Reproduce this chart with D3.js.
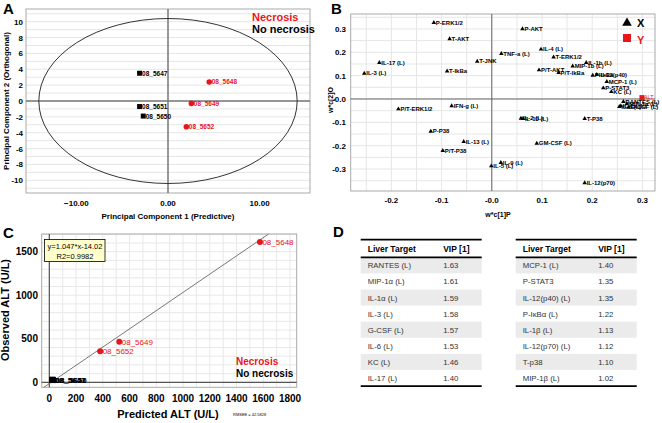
<!DOCTYPE html>
<html><head><meta charset="utf-8">
<script src="https://cdn.jsdelivr.net/npm/d3@7"></script>
<style>body{margin:0;background:#fff}svg{display:block}text{font-family:"Liberation Sans",Arial,sans-serif}</style>
</head><body><svg id="c" width="662" height="423"></svg>
<script>
// ---------- Panel A data (OPLS scores) ----------
const pcaSamples = ["08_5647","08_5651","08_5650","08_5648","08_5649","08_5652"];
const pcaPredictive = [-3.1,-3.1,-2.7,4.5,2.55,2.0];
const pcaOrthogonal = [3.5,-0.7,-1.9,2.4,-0.3,-3.25];
const pcaNecrosis = [false,false,false,true,true,true];
const pcaXTicks = [-10,0,10];
const pcaYTicks = [-10,-8,-6,-4,-2,0,2,4,6,8,10];
const ellipseRadii = [14.1,10.4];

// ---------- Panel B data (loadings) ----------
const loadNames = ["P-ERK1/2","P-AKT","T-AKT","IL-4 (L)","T-ERK1/2","TNF-a (L)","IL-17 (L)","T-JNK","IL-3 (L)","T-IkBa",
  "P/T-AKT","P/T-IkBa","MIP-1b (L)","IL-1b (L)","P-IkBa","IL-12(p40)","MCP-1 (L)","P-STAT3","KC (L)",
  "RANTES (L)","MIP-1a (L)","IL-1a (L)","G-CSF (L)","IL-6 (L)",
  "P/T-ERK1/2","IFN-g (L)","IL-2 (L)","IL-10 (L)","T-P38","P-P38","IL-13 (L)","GM-CSF (L)","P/T-P38","IL-9 (L)","IL-5 (L)","IL-12(p70)"];
const loadX = [-0.1155,0.061,-0.084,0.098,0.123,0.019,-0.224,-0.029,-0.254,-0.089,
  0.094,0.133,0.161,0.188,0.201,0.209,0.229,0.222,0.238,
  0.262,0.269,0.257,0.272,0.254,
  -0.186,-0.080,0.058,0.062,0.185,-0.1215,-0.056,0.0896,-0.0976,0.018,-0.001,0.185];
const loadY = [0.327,0.300,0.257,0.213,0.179,0.194,0.156,0.161,0.110,0.119,
  0.124,0.113,0.141,0.156,0.101,0.104,0.074,0.047,0.031,
  -0.011,-0.021,-0.030,-0.036,-0.033,
  -0.043,-0.030,-0.083,-0.084,-0.084,-0.139,-0.183,-0.190,-0.221,-0.273,-0.287,-0.359];
const respName = "ALT";
const respX = 0.299, respY = 0.006;
const loadXTicks = [-0.2,-0.1,0,0.1,0.2,0.3];
const loadXTickLabels = ["-0.2","-0.1","-0.0","0.1","0.2","0.3"];
const loadYTicks = [0.3,0.2,0.1,0,-0.1,-0.2,-0.3];
const loadYTickLabels = ["0.3","0.2","0.1","-0.0","-0.1","-0.2","-0.3"];

// ---------- Panel C data (observed vs predicted ALT) ----------
const altSamples = ["08_5648","08_5649","08_5652","08_5647","08_5650","08_5651"];
const altPredicted = [1575,523,380,20,28,24];
const altObserved = [1610,467,356,28,26,30];
const altNecrosis = [true,true,true,false,false,false];
const fitSlope = 1.047, fitIntercept = -14.02, fitR2 = 0.9982, rmsee = 42.5828;
const altXTicks = [0,200,400,600,800,1000,1200,1400,1600,1800];
const altYTicks = [0,500,1000,1500];

// ---------- Panel D data (VIP table) ----------
const vipTargets1 = ["RANTES (L)","MIP-1α (L)","IL-1α (L)","IL-3 (L)","G-CSF (L)","IL-6 (L)","KC (L)","IL-17 (L)"];
const vipValues1 = ["1.63","1.61","1.59","1.58","1.57","1.53","1.46","1.40"];
const vipTargets2 = ["MCP-1 (L)","P-STAT3","IL-12(p40) (L)","P-IκBα (L)","IL-1β (L)","IL-12(p70) (L)","T-p38","MIP-1β (L)"];
const vipValues2 = ["1.40","1.35","1.35","1.22","1.13","1.12","1.10","1.02"];

const RED = "#e8161b";
const svg = d3.select("#c");
svg.append("rect").attr("width",662).attr("height",423).attr("fill","#fff");

function panelLabel(t,x,y){svg.append("text").attr("x",x).attr("y",y).attr("font-size",15).attr("font-weight","bold").text(t);}

// ================= Panel A =================
{
  const x = d3.scaleLinear([-15.5,15.5],[26,310]);
  const y = d3.scaleLinear([-11.6,11.6],[193,9]);
  const g = svg.append("g");
  g.selectAll("line.h").data(d3.range(-11,12)).join("line")
    .attr("x1",x.range()[0]).attr("x2",x.range()[1]).attr("y1",d=>y(d)).attr("y2",d=>y(d))
    .attr("stroke","#e6e6e6").attr("stroke-width",1);
  g.append("rect").attr("x",26).attr("y",9).attr("width",284).attr("height",184)
    .attr("fill","none").attr("stroke","#aaa");
  g.append("line").attr("x1",x(0)).attr("x2",x(0)).attr("y1",9).attr("y2",193).attr("stroke","#777").attr("stroke-width",1.5);
  g.append("line").attr("x1",26).attr("x2",310).attr("y1",y(0)).attr("y2",y(0)).attr("stroke","#777").attr("stroke-width",1.5);
  g.append("ellipse").attr("cx",x(0)).attr("cy",y(0)).attr("rx",x(ellipseRadii[0])-x(0)).attr("ry",y(0)-y(ellipseRadii[1]))
    .attr("fill","none").attr("stroke","#333").attr("stroke-width",1);
  g.selectAll("text.yt").data(pcaYTicks).join("text").attr("x",23).attr("y",d=>y(d)+3)
    .attr("text-anchor","end").attr("font-size",8).attr("font-weight","bold").text(d=>d);
  g.selectAll("text.xt").data(pcaXTicks).join("text").attr("x",d=>x(d)).attr("y",206)
    .attr("text-anchor","middle").attr("font-size",8).attr("font-weight","bold").text(d=>d3.format(".2f")(d));
  pcaSamples.forEach((s,i)=>{
    const px=x(pcaPredictive[i]), py=y(pcaOrthogonal[i]);
    if(pcaNecrosis[i]) g.append("circle").attr("cx",px).attr("cy",py).attr("r",2.8).attr("fill",RED);
    else g.append("rect").attr("x",px-2.5).attr("y",py-2.5).attr("width",5).attr("height",5).attr("fill","#000");
    g.append("text").attr("x",px+2.5).attr("y",py+2.5).attr("font-size",6.5).attr("font-weight","bold")
      .attr("fill",pcaNecrosis[i]?RED:"#000").text(s);
  });
  g.append("text").attr("x",252).attr("y",21).attr("font-size",11).attr("font-weight","bold").attr("fill",RED).text("Necrosis");
  g.append("text").attr("x",252).attr("y",33).attr("font-size",11).attr("font-weight","bold").text("No necrosis");
  g.append("text").attr("transform","translate(9,101) rotate(-90)").attr("text-anchor","middle")
    .attr("font-size",8).attr("font-weight","bold").text("Principal Component 2 (Orthogonal)");
  g.append("text").attr("x",168).attr("y",219).attr("text-anchor","middle")
    .attr("font-size",8).attr("font-weight","bold").text("Principal Component 1 (Predictive)");
  panelLabel("A",3,14);
}

// ================= Panel B =================
{
  const x = d3.scaleLinear([-0.281,0.325],[350.7,655]);
  const y = d3.scaleLinear([-0.394,0.364],[191,14]);
  const g = svg.append("g");
  const gx = d3.range(-0.25,0.33,0.05), gy = d3.range(-0.35,0.36,0.05);
  g.selectAll("line.v").data(gx).join("line").attr("x1",d=>x(d)).attr("x2",d=>x(d)).attr("y1",14).attr("y2",191).attr("stroke","#e6e6e6");
  g.selectAll("line.h").data(gy).join("line").attr("y1",d=>y(d)).attr("y2",d=>y(d)).attr("x1",350.7).attr("x2",655).attr("stroke","#e6e6e6");
  g.append("rect").attr("x",350.7).attr("y",14).attr("width",304.3).attr("height",177).attr("fill","none").attr("stroke","#aaa");
  g.append("line").attr("x1",x(0)).attr("x2",x(0)).attr("y1",14).attr("y2",191).attr("stroke","#666");
  g.append("line").attr("x1",350.7).attr("x2",655).attr("y1",y(0)).attr("y2",y(0)).attr("stroke","#666");
  g.selectAll("text.yt").data(loadYTicks).join("text").attr("x",346).attr("y",d=>y(d)+3)
    .attr("text-anchor","end").attr("font-size",8).attr("font-weight","bold").text((d,i)=>loadYTickLabels[i]);
  g.selectAll("text.xt").data(loadXTicks).join("text").attr("x",d=>x(d)).attr("y",203)
    .attr("text-anchor","middle").attr("font-size",8).attr("font-weight","bold").text((d,i)=>loadXTickLabels[i]);
  const tri = d3.symbol(d3.symbolTriangle,9);
  loadNames.forEach((n,i)=>{
    const px=x(loadX[i]), py=y(loadY[i]);
    g.append("path").attr("d",tri()).attr("transform",`translate(${px},${py})`).attr("fill","#000");
    g.append("text").attr("x",px+2).attr("y",py+2).attr("font-size",6).attr("font-weight","bold").text(n);
  });
  const rx=x(respX), ry=y(respY);
  g.append("rect").attr("x",rx-2.5).attr("y",ry-2.5).attr("width",5).attr("height",5).attr("fill",RED);
  g.append("text").attr("x",rx+2).attr("y",ry+1).attr("font-size",5.5).attr("fill",RED).text(respName);
  // legend
  g.append("path").attr("d",d3.symbol(d3.symbolTriangle,40)()).attr("transform","translate(627,23)").attr("fill","#000");
  g.append("text").attr("x",637).attr("y",27).attr("font-size",11).attr("font-weight","bold").text("X");
  g.append("rect").attr("x",623).attr("y",34).attr("width",8).attr("height",8).attr("fill",RED);
  g.append("text").attr("x",637).attr("y",44).attr("font-size",11).attr("font-weight","bold").attr("fill",RED).text("Y");
  g.append("text").attr("transform","translate(333,100) rotate(-90)").attr("text-anchor","middle")
    .attr("font-size",7).attr("font-weight","bold").text("w*c[2]O");
  g.append("text").attr("x",498).attr("y",217).attr("text-anchor","middle")
    .attr("font-size",7).attr("font-weight","bold").text("w*c[1]P");
  panelLabel("B",331,14);
}

// ================= Panel C =================
{
  const x = d3.scaleLinear([-57,1850],[41.7,296.7]);
  const y = d3.scaleLinear([-57,1703],[387.3,234]);
  const g = svg.append("g");
  g.selectAll("line.v").data(d3.range(0,1900,100)).join("line").attr("x1",d=>x(d)).attr("x2",d=>x(d)).attr("y1",234).attr("y2",387.3).attr("stroke","#e8e8e8");
  g.selectAll("line.h").data(d3.range(0,1701,100)).join("line").attr("y1",d=>y(d)).attr("y2",d=>y(d)).attr("x1",41.7).attr("x2",296.7).attr("stroke","#e8e8e8");
  g.append("rect").attr("x",41.7).attr("y",234).attr("width",255).attr("height",153.3).attr("fill","none").attr("stroke","#aaa");
  g.append("line").attr("x1",x(0)).attr("x2",x(0)).attr("y1",234).attr("y2",387.3).attr("stroke","#555").attr("stroke-width",1.2);
  g.append("line").attr("x1",41.7).attr("x2",296.7).attr("y1",y(0)).attr("y2",y(0)).attr("stroke","#555").attr("stroke-width",1.2);
  // regression line clipped to plot area
  const xs0 = (-57 - fitIntercept)/fitSlope, xs1 = (1703 - fitIntercept)/fitSlope;
  g.append("line").attr("x1",x(xs0)).attr("y1",y(-57)).attr("x2",x(xs1)).attr("y2",y(1703)).attr("stroke","#555").attr("stroke-width",0.8);
  g.selectAll("text.yt").data(altYTicks).join("text").attr("x",38).attr("y",d=>y(d)+3.5)
    .attr("text-anchor","end").attr("font-size",10).attr("font-weight","bold").text(d=>d);
  g.selectAll("text.xt").data(altXTicks).join("text").attr("x",d=>x(d)).attr("y",402)
    .attr("text-anchor","middle").attr("font-size",10).attr("font-weight","bold").text(d=>d);
  altSamples.forEach((s,i)=>{
    const px=x(altPredicted[i]), py=y(altObserved[i]);
    if(altNecrosis[i]) g.append("circle").attr("cx",px).attr("cy",py).attr("r",3).attr("fill",RED);
    else g.append("rect").attr("x",px-3).attr("y",py-3).attr("width",6).attr("height",6).attr("fill","#000");
    g.append("text").attr("x",px+2.5).attr("y",py+3).attr("font-size",8).attr("font-weight",altNecrosis[i]?"normal":"bold")
      .attr("fill",altNecrosis[i]?RED:"#000").text(s);
  });
  g.append("rect").attr("x",44.5).attr("y",239.5).attr("width",60.5).attr("height",22).attr("fill","#ffffcc").attr("stroke","#000").attr("stroke-width",0.8);
  g.append("text").attr("x",75).attr("y",248.5).attr("text-anchor","middle").attr("font-size",7.5).text(`y=${fitSlope}*x${fitIntercept}`);
  g.append("text").attr("x",75).attr("y",258.5).attr("text-anchor","middle").attr("font-size",7.5).text(`R2=${fitR2}`);
  g.append("text").attr("x",236).attr("y",365).attr("font-size",10).attr("font-weight","bold").attr("fill",RED).text("Necrosis");
  g.append("text").attr("x",236).attr("y",377).attr("font-size",10).attr("font-weight","bold").text("No necrosis");
  g.append("text").attr("transform","translate(9,310) rotate(-90)").attr("text-anchor","middle")
    .attr("font-size",11).attr("font-weight","bold").text("Observed ALT (U/L)");
  g.append("text").attr("x",168).attr("y",418).attr("text-anchor","middle")
    .attr("font-size",11).attr("font-weight","bold").text("Predicted ALT (U/L)");
  g.append("text").attr("x",233).attr("y",416).attr("font-size",4).attr("font-family","DejaVu Serif").text(`RMSEE = ${rmsee}`);
  panelLabel("C",3,238);
}

// ================= Panel D =================
{
  const g = svg.append("g");
  function table(x0,w,targets,values){
    const top=239.7, headH=17.6, rowH=16.1;
    const rows = d3.range(targets.length);
    g.selectAll(null).data(rows.filter(i=>i%2===0)).join("rect")
      .attr("x",x0).attr("width",w).attr("y",i=>top+headH+i*rowH).attr("height",rowH).attr("fill","#ebebeb");
    g.append("line").attr("x1",x0).attr("x2",x0+w).attr("y1",top).attr("y2",top).attr("stroke","#000").attr("stroke-width",1.8);
    g.append("line").attr("x1",x0).attr("x2",x0+w).attr("y1",top+headH).attr("y2",top+headH).attr("stroke","#000").attr("stroke-width",1.8);
    const bot = top+headH+targets.length*rowH;
    g.append("line").attr("x1",x0).attr("x2",x0+w).attr("y1",bot).attr("y2",bot).attr("stroke","#000").attr("stroke-width",1.8);
    g.append("text").attr("x",x0+7).attr("y",top+12.5).attr("font-size",8.5).attr("font-weight","bold").text("Liver Target");
    g.append("text").attr("x",x0+82.5).attr("y",top+12.5).attr("font-size",8.5).attr("font-weight","bold").text("VIP [1]");
    g.selectAll(null).data(rows).join("text").attr("x",x0+7).attr("y",i=>top+headH+i*rowH+11)
      .attr("font-size",7.8).attr("fill","#333").text(i=>targets[i]);
    g.selectAll(null).data(rows).join("text").attr("x",x0+82.5).attr("y",i=>top+headH+i*rowH+11)
      .attr("font-size",7.8).attr("fill","#333").text(i=>values[i]);
  }
  table(360.7,121,vipTargets1,vipValues1);
  table(515.7,121,vipTargets2,vipValues2);
  panelLabel("D",333,237);
}
</script></body></html>
